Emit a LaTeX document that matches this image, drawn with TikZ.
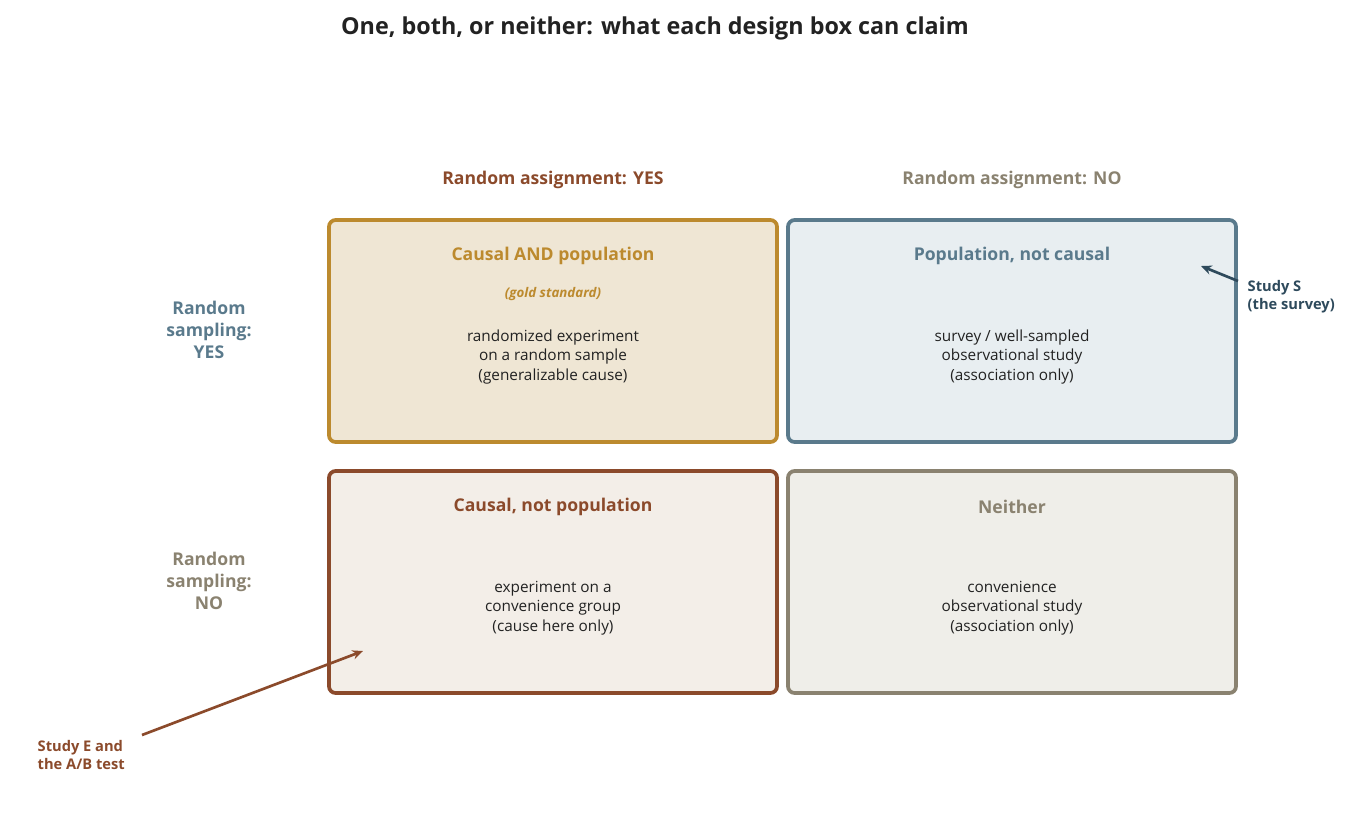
\documentclass[tikz,border=0pt]{standalone}
\usepackage{fontspec}
\setmainfont{Open Sans}
\usetikzlibrary{arrows.meta}
\definecolor{gold}{HTML}{BC8A2E}\definecolor{goldf}{HTML}{EFE6D4}
\definecolor{blu}{HTML}{5A7A8C}\definecolor{bluf}{HTML}{E8EEF1}
\definecolor{brn}{HTML}{8B4A2B}\definecolor{brnf}{HTML}{F3EEE8}
\definecolor{gry}{HTML}{8A8270}\definecolor{gryf}{HTML}{EFEEE9}
\definecolor{dblu}{HTML}{2E4A5C}\definecolor{txt}{HTML}{222222}
\begin{document}
\begin{tikzpicture}[x=0.75pt,y=-0.75pt,
 box/.style={line width=2.8pt,rounded corners=5pt},
 hd/.style={font=\fontsize{13.2}{15}\selectfont\bfseries},
 bt/.style={font=\fontsize{11.5}{14.6}\selectfont,text=txt,align=center},
 rl/.style={font=\fontsize{13.2}{16.5}\selectfont\bfseries,align=center},
 ar/.style={line width=2pt,-{Stealth[length=8pt,width=7pt]}}]
\useasboundingbox (0,0) rectangle (1359,826);
\node[font=\fontsize{17.5}{19}\selectfont\bfseries,text=txt] (title) at (655,28) {One, both, or neither: what each design box can claim};
\node[hd,text=brn] (cy) at (553,180) {Random assignment: YES};
\node[hd,text=gry] (cn) at (1012,180) {Random assignment: NO};
\node[rl,text=blu] (ry) at (209,330) {Random\\sampling:\\YES};
\node[rl,text=gry] (rn) at (209,581) {Random\\sampling:\\NO};
\draw[box,draw=gold,fill=goldf] (329,220) rectangle (777,442);
\draw[box,draw=blu,fill=bluf] (788,220) rectangle (1236,442);
\draw[box,draw=brn,fill=brnf] (329,471) rectangle (777,693);
\draw[box,draw=gry,fill=gryf] (788,471) rectangle (1236,693);
\node[hd,text=gold] (t1) at (553,256) {Causal AND population};
\node[font=\fontsize{10}{11}\selectfont\bfseries\itshape,text=gold] (g1) at (553,294) {(gold standard)};
\node[bt] (b1) at (553,357) {randomized experiment\\on a random sample\\(generalizable cause)};
\node[hd,text=blu] (t2) at (1012,256) {Population, not causal};
\node[bt] (b2) at (1012,357) {survey / well-sampled\\observational study\\(association only)};
\node[hd,text=brn] (t3) at (553,507) {Causal, not population};
\node[bt] (b3) at (553,608) {experiment on a\\convenience group\\(cause here only)};
\node[hd,text=gry] (t4) at (1012,507) {Neither};
\node[bt] (b4) at (1012,608) {convenience\\observational study\\(association only)};
\node[font=\fontsize{11}{13.5}\selectfont\bfseries,text=dblu,align=left,anchor=west] (ss) at (1243,297) {Study S\\(the survey)};
\coordinate (sa) at (1201,266);
\draw[ar,draw=dblu] (1238,281) -- (sa);
\node[font=\fontsize{11}{13.5}\selectfont\bfseries,text=brn,align=left,anchor=west] (se) at (33,755) {Study E and\\the A/B test};
\coordinate (ea) at (363,651);
\draw[ar,draw=brn] (142,735) -- (ea);
\end{tikzpicture}
\end{document}
